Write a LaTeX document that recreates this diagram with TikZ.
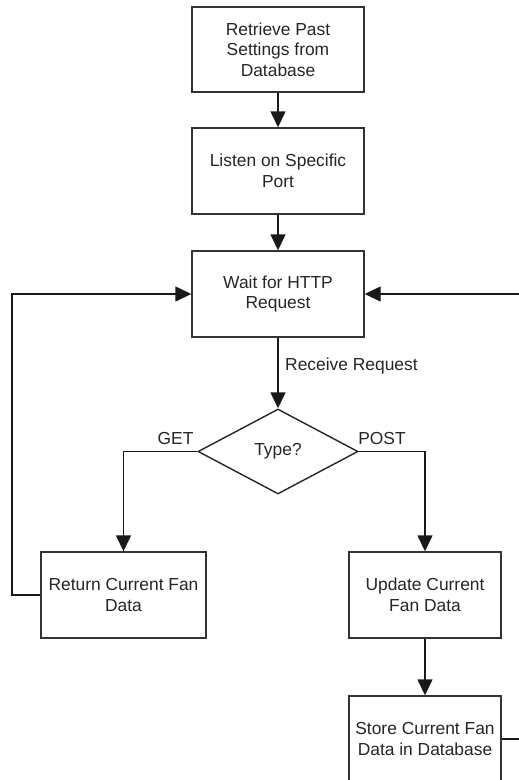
\documentclass[tikz,border=0pt]{standalone}
\usepackage{fontspec}
\setmainfont{Liberation Sans}
\usetikzlibrary{arrows.meta,shapes.geometric}

\tikzset{
  stepbox/.style={draw=black!80, line width=1.4pt, fill=white, inner sep=2pt,
    align=center, text=black!85, font=\fontsize{17.4}{20.5}\selectfont},
  decide/.style={draw=black!85, line width=1.4pt, diamond, inner sep=0pt,
    minimum width=160pt, minimum height=85pt, text=black!85,
    font=\fontsize{17.4}{20.5}\selectfont},
  flow/.style={line width=1.4pt, draw=black!90,
    -{Triangle[length=16pt,width=15pt]}},
  lbl/.style={text=black!85, font=\fontsize{17.4}{20.5}\selectfont, inner sep=0pt}
}

\begin{document}
\begin{tikzpicture}[x=1pt,y=1pt]
  \useasboundingbox (0,0) rectangle (519,-780);
  \clip (0,0) rectangle (519,-780);
  \fill[white] (0,0) rectangle (519,-780);

  % process steps
  \node[stepbox, minimum width=172pt, minimum height=85pt] (fetch) at (278,-49.5)
    {Retrieve Past\\Settings from\\Database};
  \node[stepbox, minimum width=172pt, minimum height=86pt] (listen) at (278,-171)
    {Listen on Specific\\Port};
  \node[stepbox, minimum width=172pt, minimum height=86pt] (wait) at (278,-294)
    {Wait for HTTP\\Request};
  \node[decide] (type) at (278,-451.5) {Type?};
  \node[stepbox, minimum width=165pt, minimum height=86pt] (ret) at (123.5,-595)
    {Return Current Fan\\Data};
  \node[stepbox, minimum width=152pt, minimum height=86pt] (upd) at (425,-595)
    {Update Current\\Fan Data};
  \node[stepbox, minimum width=152pt, minimum height=86pt] (store) at (425,-739)
    {Store Current Fan\\Data in Database};

  % loop-back corners
  \coordinate (leftloop) at (12,-595);
  \coordinate (rightloop) at (535,-739);

  % connectors
  \draw[flow] (fetch) -- (listen);
  \draw[flow] (listen) -- (wait);
  \draw[flow] (wait) -- (type.north);
  \draw[flow] (type.west) -| (ret.north);
  \draw[flow] (type.east) -| (upd.north);
  \draw[flow] (upd) -- (store);
  \draw[flow] (ret.west) -- (leftloop) |- (wait.west);
  \draw[flow] (store.east) -- (rightloop) |- (wait.east);

  % edge labels
  \node[lbl, anchor=west] (recv) at (285,-366) {Receive Request};
  \node[lbl] (get) at (175.5,-439) {GET};
  \node[lbl] (post) at (382,-439) {POST};
\end{tikzpicture}
\end{document}
